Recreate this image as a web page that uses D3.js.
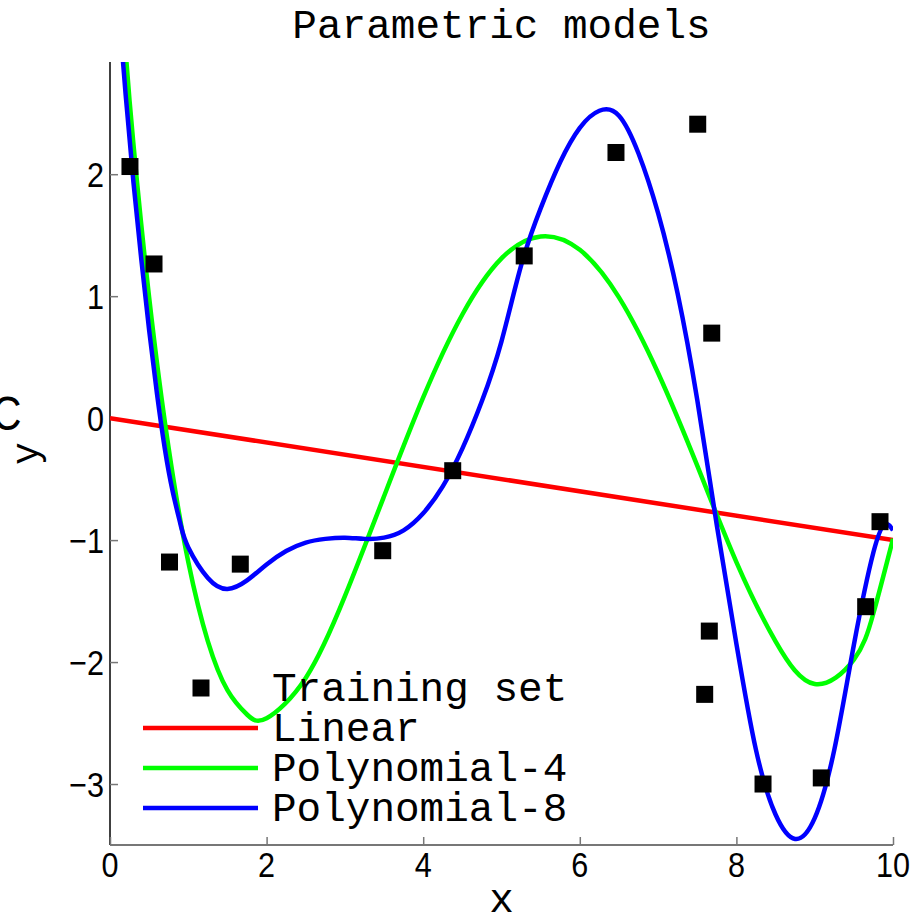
<!DOCTYPE html>
<html>
<head>
<meta charset="utf-8">
<script src="https://cdn.jsdelivr.net/npm/d3@7/dist/d3.min.js"></script>
<style>
  html, body { margin: 0; padding: 0; background: #fff; }
  svg { display: block; }
  .mono { font-family: "Courier New", Courier, "Nimbus Mono PS", "Nimbus Mono L", FreeMono, "Liberation Mono", monospace; fill: #000; }
  .tick-label { font-family: "Liberation Sans", Arial, sans-serif; fill: #000; }
</style>
</head>
<body>
<script>
// Training set
const trainX = [0.255, 0.562, 0.76, 1.664, 3.483, 4.377, 5.29, 6.462, 7.506, 7.685, 7.654, 7.595, 8.34, 9.084, 9.651, 9.834];
const trainY = [2.063, 1.264, -1.18, -1.197, -1.087, -0.431, 1.33, 2.178, 2.41, 0.697, -1.746, -2.265, -3.0, -2.95, -1.546, -0.849];

// Linear fit
const linearX = [0, 10];
const linearY = [0, -1.0];

// Degree-4 polynomial fit, sampled
const poly4X = [0, 0.25, 0.5, 0.75, 1, 1.25, 1.5, 1.75, 2, 2.5, 3, 3.5, 4, 4.5, 5, 5.5, 6, 6.5, 7, 7.5, 8, 8.5, 9, 9.5, 9.75, 10];
const poly4Y = [4.62, 2.60, 0.99, -0.25, -1.18, -1.83, -2.23, -2.43, -2.46, -2.13, -1.46, -0.64, 0.17, 0.85, 1.31, 1.49, 1.38, 0.99, 0.37, -0.39, -1.18, -1.83, -2.18, -1.98, -1.60, -0.99];

// Degree-8 polynomial fit, sampled
const poly8X = [0, 0.1, 0.2, 0.3, 0.4, 0.5, 0.6, 0.7, 0.8, 0.9, 1.0, 1.25, 1.5, 1.75, 2.0, 2.25, 2.5, 2.75, 3.0, 3.25, 3.5, 3.75, 4.0, 4.25, 4.5, 4.75, 5.0, 5.25, 5.5, 5.75, 6.0, 6.25, 6.5, 6.75, 7.0, 7.25, 7.5, 7.75, 8.0, 8.25, 8.5, 8.75, 9.0, 9.25, 9.5, 9.75, 9.9, 10];
const poly8Y = [4.2, 3.45, 2.65, 1.93, 1.3, 0.72, 0.2, -0.25, -0.6, -0.87, -1.06, -1.31, -1.40, -1.33, -1.2, -1.09, -1.02, -0.99, -0.98, -0.99, -0.98, -0.92, -0.78, -0.56, -0.25, 0.14, 0.63, 1.25, 1.72, 2.10, 2.38, 2.52, 2.48, 2.17, 1.68, 1.02, 0.15, -0.88, -1.85, -2.72, -3.25, -3.45, -3.28, -2.72, -1.86, -1.1, -0.87, -0.92];

const xTicks = [0, 2, 4, 6, 8, 10];
const yTicks = [-3, -2, -1, 0, 1, 2];

const seriesNames = ["Linear", "Polynomial-4", "Polynomial-8"];
const seriesColors = ["#ff0000", "#00ff00", "#0000ff"];

const W = 924, H = 920;
const plotLeft = 110, plotRight = 893, plotTop = 62, plotBottom = 845;

const x = d3.scaleLinear().domain([0, 10]).range([plotLeft, plotRight]);
const y = d3.scaleLinear().domain([-3.5, 2.92]).range([plotBottom, plotTop]);

const svg = d3.select("body").append("svg").attr("width", W).attr("height", H);

svg.append("defs").append("clipPath").attr("id", "plot")
  .append("rect").attr("x", plotLeft).attr("y", plotTop)
  .attr("width", plotRight - plotLeft).attr("height", plotBottom - plotTop);

// Title
svg.append("text").attr("class", "mono")
  .attr("x", (plotLeft + plotRight) / 2).attr("y", 38)
  .attr("text-anchor", "middle").attr("font-size", 41)
  .text("Parametric models");

// Axes
const yAxis = d3.axisLeft(y).tickValues(yTicks).tickSize(-8).tickFormat("");
const xAxis = d3.axisBottom(x).tickValues(xTicks).tickSize(-8).tickFormat("");

const gy = svg.append("g").attr("transform", `translate(${plotLeft},0)`).call(yAxis);
gy.select(".domain").attr("stroke", "#000").attr("stroke-width", 1.5).attr("d", `M0,${plotTop}V${plotBottom}`);
gy.selectAll(".tick line").attr("stroke", "#777").attr("stroke-width", 1.5);

const gx = svg.append("g").attr("transform", `translate(0,${plotBottom})`).call(xAxis);
gx.select(".domain").attr("stroke", "#777").attr("stroke-width", 2).attr("d", `M${plotLeft},0H${plotRight}`);
gx.selectAll(".tick line").attr("stroke", "#777").attr("stroke-width", 1.5);

// Tick labels
svg.append("g").selectAll("text").data(yTicks).join("text")
  .attr("class", "tick-label")
  .attr("transform", d => `translate(104,${y(d) + 12.5}) scale(0.85,1)`)
  .attr("text-anchor", "end").attr("font-size", 36)
  .text(d => d < 0 ? "\u2212" + Math.abs(d) : String(d));

svg.append("g").selectAll("text").data(xTicks).join("text")
  .attr("class", "tick-label")
  .attr("transform", d => `translate(${x(d)},877) scale(0.85,1)`)
  .attr("text-anchor", "middle").attr("font-size", 36)
  .text(d => String(d));

// Axis labels
svg.append("text").attr("class", "mono")
  .attr("x", (plotLeft + plotRight) / 2).attr("y", 912)
  .attr("text-anchor", "middle").attr("font-size", 41).text("x");

svg.append("text").attr("class", "mono")
  .attr("transform", `translate(38,${(plotTop + plotBottom) / 2}) rotate(-90)`)
  .attr("text-anchor", "middle").attr("font-size", 38).text("y");

svg.append("text").attr("class", "tick-label")
  .attr("transform", "translate(-8,430) scale(0.85,1)")
  .attr("font-size", 48).text("C");

// Fitted curves (smooth cubic spline through the sampled fit values)
const line = d3.line().x(d => x(d[0])).y(d => y(d[1])).curve(d3.curveNatural);
const curves = [
  d3.zip(linearX, linearY),
  d3.zip(poly4X, poly4Y),
  d3.zip(poly8X, poly8Y)
];

const plot = svg.append("g").attr("clip-path", "url(#plot)");
plot.selectAll("path.fit").data(curves).join("path")
  .attr("class", "fit")
  .attr("d", line)
  .attr("fill", "none")
  .attr("stroke", (d, i) => seriesColors[i])
  .attr("stroke-width", 4.5)
  .attr("stroke-linejoin", "round");

// Training points
const sq = 17;
svg.append("g").selectAll("rect").data(d3.zip(trainX, trainY)).join("rect")
  .attr("x", d => x(d[0]) - sq / 2).attr("y", d => y(d[1]) - sq / 2)
  .attr("width", sq).attr("height", sq).attr("fill", "#000");

// Legend
const legend = svg.append("g");
const rowY = [688, 728, 768, 808];
legend.append("rect").attr("x", 201 - sq / 2).attr("y", rowY[0] - sq / 2)
  .attr("width", sq).attr("height", sq).attr("fill", "#000");
legend.selectAll("line").data(seriesNames).join("line")
  .attr("x1", 143).attr("x2", 258)
  .attr("y1", (d, i) => rowY[i + 1]).attr("y2", (d, i) => rowY[i + 1])
  .attr("stroke", (d, i) => seriesColors[i]).attr("stroke-width", 4.5);
legend.selectAll("text").data(["Training set"].concat(seriesNames)).join("text")
  .attr("class", "mono")
  .attr("x", 272).attr("y", (d, i) => rowY[i] + 13)
  .attr("font-size", 41)
  .text(d => d);
</script>
</body>
</html>
